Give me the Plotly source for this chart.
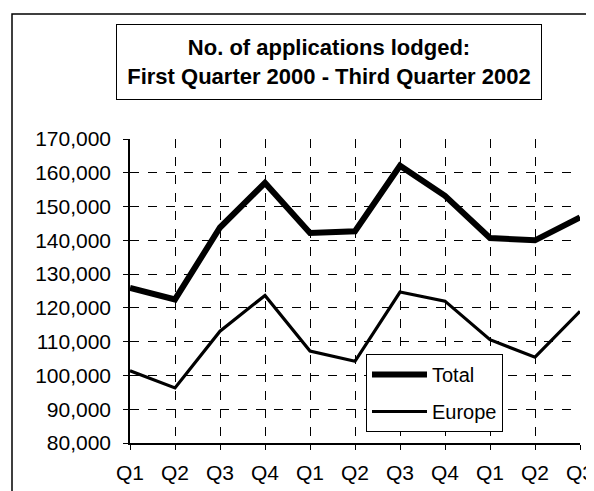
import plotly.graph_objects as go

quarters = ["Q1", "Q2", "Q3", "Q4", "Q1", "Q2", "Q3", "Q4", "Q1", "Q2", "Q3"]
total = [125900, 122500, 143800, 157000, 142200, 142700, 162100, 153200, 140700, 140000, 146800]
europe = [101400, 96300, 113100, 123700, 107200, 104200, 124700, 122000, 110600, 105400, 119000]
y_ticks = list(range(80000, 170001, 10000))
title_lines = ["No. of applications lodged:", "First Quarter 2000 - Third Quarter 2002"]

OFF = 8  # page body margin
W, H = 594 - OFF, 491 - OFF
L, R, T, B = 130 - OFF, 14, 139 - OFF, 48
PW, PH = W - L - R, H - T - B

def px(xpix):
    return (xpix - OFF - L) / PW

def py(ypix):
    return (H - B - (ypix - OFF)) / PH

FONT = "Liberation Sans, Arial, sans-serif"
xs = list(range(len(quarters)))

fig = go.Figure()
fig.add_trace(go.Scatter(x=xs, y=total, mode="lines", name="Total",
                         line=dict(color="black", width=6), legendgroup="a"))
fig.add_trace(go.Scatter(x=xs, y=europe, mode="lines", name="Europe",
                         line=dict(color="black", width=3.2), legendgroup="b"))

fig.update_layout(
    width=W, height=H,
    margin=dict(l=L, r=R, t=T, b=B, pad=0, autoexpand=False),
    paper_bgcolor="white", plot_bgcolor="white",
    font=dict(family=FONT, size=21, color="black"),
    showlegend=True,
    legend=dict(x=px(366), y=py(354), xanchor="left", yanchor="top",
                bgcolor="white", bordercolor="black", borderwidth=1,
                font=dict(family=FONT, size=20, color="black"),
                tracegroupgap=8, traceorder="grouped", itemwidth=55),
    xaxis=dict(range=[0, len(quarters) - 1], tickmode="array", tickvals=xs, ticktext=quarters,
               showgrid=True, gridcolor="black", griddash="dash", gridwidth=1,
               showline=True, linecolor="black", linewidth=1.5,
               ticks="outside", ticklen=5, tickcolor="black", tickwidth=1,
               zeroline=False, ticklabelstandoff=5, automargin=False,
               ticklabeloverflow="allow"),
    yaxis=dict(range=[80000, 170000], tickmode="array", tickvals=y_ticks,
               ticktext=[f"{v:,}" for v in y_ticks],
               showgrid=True, gridcolor="black", griddash="dash", gridwidth=1,
               showline=True, linecolor="black", linewidth=1.5,
               ticks="outside", ticklen=5, tickcolor="black", tickwidth=1,
               zeroline=False, ticklabelstandoff=8, automargin=False,
               ticklabeloverflow="allow"),
)

fig.add_annotation(
    xref="paper", yref="paper", x=px(329), y=py(62), xanchor="center", yanchor="middle",
    text="<b>" + title_lines[0] + "</b><br><b>" + title_lines[1] + "</b>",
    showarrow=False, align="center",
    font=dict(family=FONT, size=22, color="black"),
    bordercolor="black", borderwidth=1, bgcolor="white",
    width=422, height=72, borderpad=1,
)

fig.add_shape(type="rect", xref="paper", yref="paper",
              x0=px(12), x1=px(620), y0=py(520), y1=py(14),
              line=dict(color="black", width=1.5), fillcolor="rgba(0,0,0,0)", layer="below")

fig.write_html("out.html")
